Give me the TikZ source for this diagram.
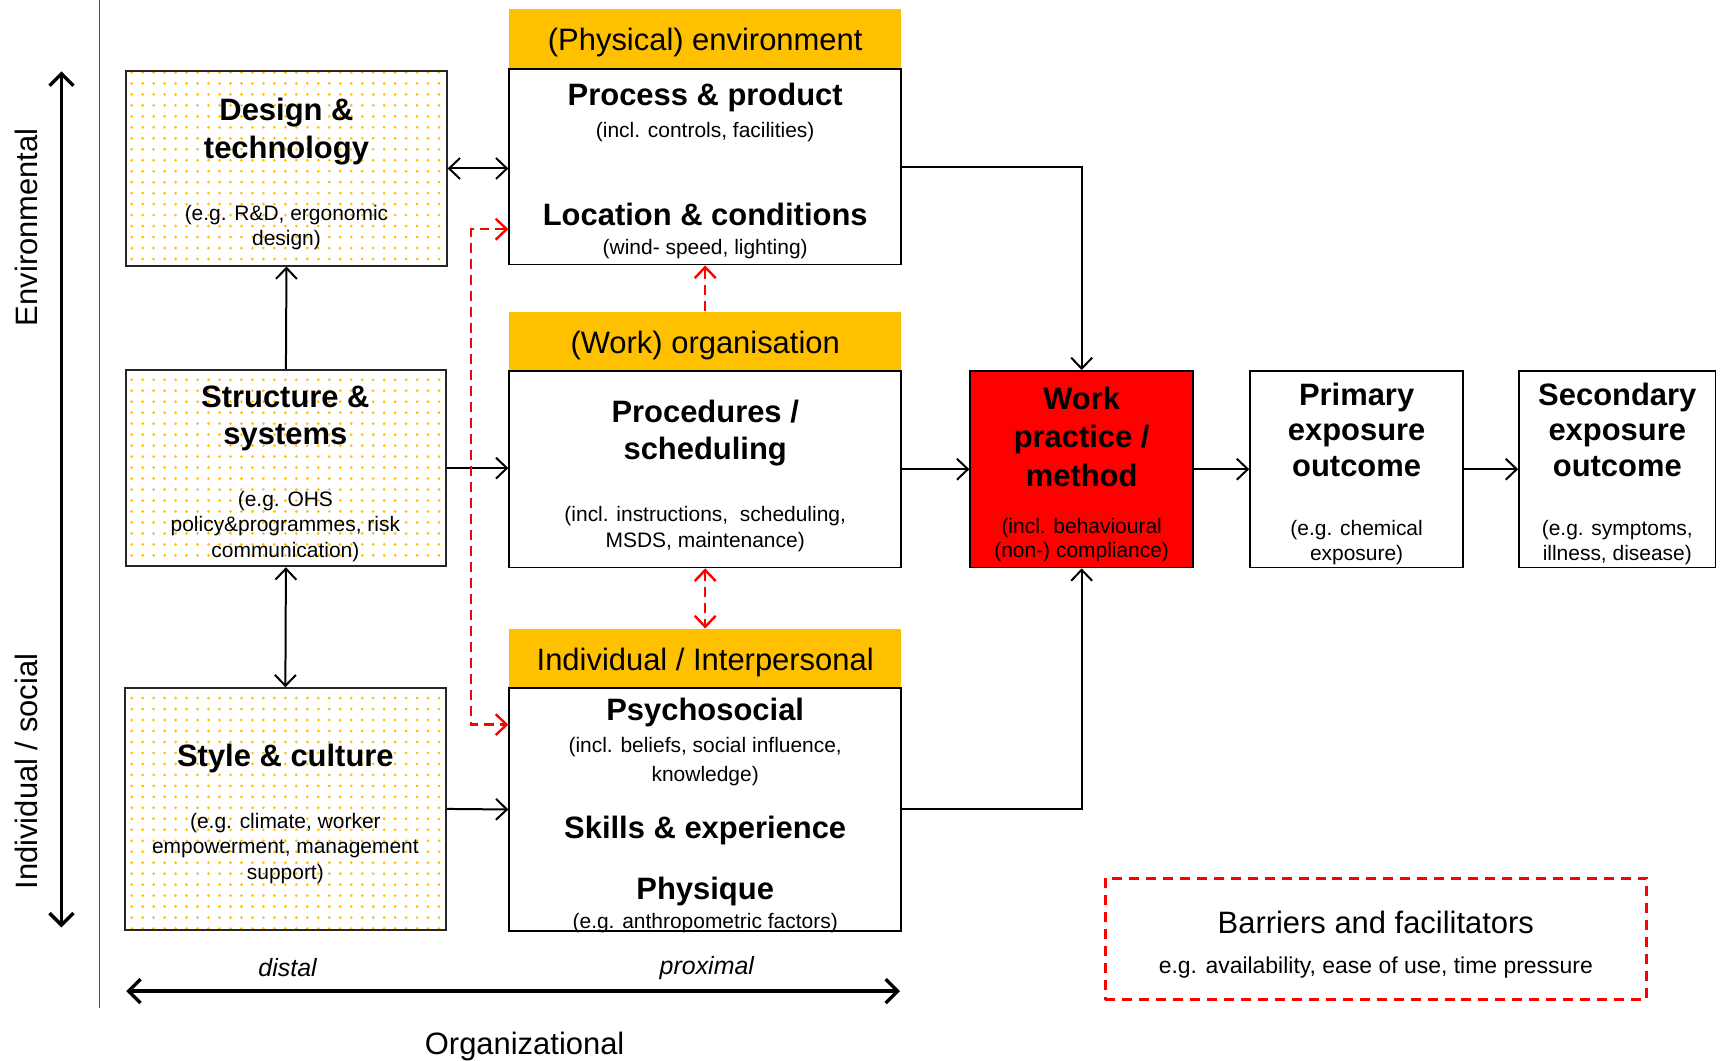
\documentclass[tikz,border=0pt]{standalone}
\usepackage{fontspec}
\setmainfont{Liberation Sans}
\usetikzlibrary{arrows.meta,patterns.meta,calc}
\definecolor{hdrc}{HTML}{FFC000}
\definecolor{wred}{HTML}{FF0000}
\definecolor{dotc}{HTML}{FFC000}
\begin{document}
\begin{tikzpicture}[x=0.55pt,y=-0.55pt,
  sz/.style 2 args={minimum width={#1*0.55pt},minimum height={#2*0.55pt}},
  box/.style={draw=black,line width=0.9pt,inner sep=0pt,fill=white},
  dotbox/.style={draw=black!85,line width=0.9pt,inner sep=0pt,preaction={fill=white},pattern={Dots[distance=5.5pt,radius=0.75pt]},pattern color=dotc},
  hdrbox/.style={fill=hdrc,inner sep=0pt},
  hdrtxt/.style={font=\fontsize{15.5}{18}\selectfont,inner sep=0pt,yshift=-1.9pt},
  ttl/.style={font=\fontsize{15.5}{18.7}\selectfont\bfseries,align=center,inner sep=0pt,yshift=-1.65pt},
  sub/.style={font=\fontsize{10.5}{12.7}\selectfont,align=center,inner sep=0pt,yshift=-1.65pt},
  plain/.style={font=\fontsize{15.5}{18}\selectfont,inner sep=0pt},
  conn/.style={line width=1pt,-{Straight Barb[length=5.5pt,width=10.5pt]}},
  dconn/.style={line width=1pt,{Straight Barb[length=5.5pt,width=10.5pt]}-{Straight Barb[length=5.5pt,width=10.5pt]}},
  rdash/.style={draw=wred,line width=1.2pt,dash pattern=on 5pt off 3pt},
  axis/.style={line width=1.7pt,{Straight Barb[length=6pt,width=12pt]}-{Straight Barb[length=6pt,width=12pt]}}
]
\useasboundingbox (0,0) rectangle (1568,966);

% separator and axes
\coordinate (sepT) at (91,0);
\coordinate (sepB) at (91,918);
\draw[black!70,line width=0.6pt] (sepT) -- (sepB);
\coordinate (envT) at (56,65);
\coordinate (envB) at (56,845);
\draw[axis] (envT) -- (envB);
\node[plain,rotate=90] (envlbl) at (24,207) {Environmental};
\node[plain,rotate=90] (indlbl) at (24,703) {Individual / social};
\coordinate (orgL) at (115,903);
\coordinate (orgR) at (820,903);
\draw[axis] (orgL) -- (orgR);
\node[font=\fontsize{12.5}{15}\selectfont\itshape,inner sep=0pt] (distal) at (262,882) {distal};
\node[font=\fontsize{12.5}{15}\selectfont\itshape,inner sep=0pt] (proximal) at (644,882) {proximal};
\node[plain] (orglbl) at (478,953) {Organizational};

% left dotted boxes
\node[dotbox,sz={292}{177}] (design) at (261,153.5) {};
\node[ttl] (designT) at (261,117) {Design \&\\technology};
\node[sub] (designS) at (261,204.5) {(e.g. R\&D, ergonomic\\design)};

\node[dotbox,sz={291}{179}] (struct) at (260.5,426.5) {};
\node[ttl] (structT) at (260,378.5) {Structure \&\\systems};
\node[sub,font=\fontsize{10.5}{12.9}\selectfont] (structS) at (260,476.7) {(e.g. OHS\\policy\&programmes, risk\\communication)};

\node[dotbox,sz={292}{220}] (style) at (260,737) {};
\node[ttl] (styleT) at (260,688) {Style \& culture};
\node[sub] (styleS) at (260,770) {(e.g. climate, worker\\empowerment, management\\support)};

% physical environment
\node[hdrbox,sz={357}{55}] (physH) at (642.5,35.5) {};
\node[hdrtxt] (physHT) at (642.5,35.5) {(Physical) environment};
\node[box,sz={357}{178}] (physB) at (642.5,152) {};
\node[ttl] (physT1) at (642.5,86) {Process \& product};
\node[sub] (physS1) at (642.5,117) {(incl. controls, facilities)};
\node[ttl] (physT2) at (642.5,192) {Location \& conditions};
\node[sub] (physS2) at (642.5,224) {(wind- speed, lighting)};

% work organisation
\node[hdrbox,sz={357}{54}] (orgH) at (642.5,311) {};
\node[hdrtxt] (orgHT) at (642.5,311) {(Work) organisation};
\node[box,sz={357}{179}] (procB) at (642.5,427.5) {};
\node[ttl] (procT) at (642.5,391.5) {Procedures /\\scheduling};
\node[sub] (procS) at (642.5,479) {(incl. instructions,\ \ scheduling,\\MSDS, maintenance)};

% individual
\node[hdrbox,sz={357}{54}] (indH) at (642.5,600) {};
\node[hdrtxt] (indHT) at (642.5,600) {Individual / Interpersonal};
\node[box,sz={357}{221}] (psyB) at (642.5,737.5) {};
\node[ttl] (psyT1) at (642.5,646) {Psychosocial};
\node[sub,font=\fontsize{10.5}{14.3}\selectfont] (psyS1) at (642.5,691) {(incl. beliefs, social influence,\\knowledge)};
\node[ttl] (psyT2) at (642.5,754) {Skills \& experience};
\node[ttl] (psyT3) at (642.5,809) {Physique};
\node[sub] (psyS3) at (642.5,838) {(e.g. anthropometric factors)};

% work practice and outcomes
\node[box,fill=wred,sz={203}{179}] (work) at (985.5,427.5) {};
\node[ttl,font=\fontsize{15.5}{19.25}\selectfont\bfseries] (workT) at (985.5,395) {Work\\practice /\\method};
\node[sub,font=\fontsize{10.5}{12.1}\selectfont] (workS) at (985.5,489) {(incl. behavioural\\(non-) compliance)};

\node[box,sz={194}{179}] (prim) at (1236,427.5) {};
\node[ttl,font=\fontsize{15.5}{17.9}\selectfont\bfseries] (primT) at (1236,388.5) {Primary\\exposure\\outcome};
\node[sub] (primS) at (1236,491.5) {(e.g. chemical\\exposure)};

\node[box,sz={179}{179}] (sec) at (1473.5,427.5) {};
\node[ttl,font=\fontsize{15.5}{17.9}\selectfont\bfseries] (secT) at (1473.5,388.5) {Secondary\\exposure\\outcome};
\node[sub] (secS) at (1473.5,491.5) {(e.g. symptoms,\\illness, disease)};

% barriers
\node[draw=wred,line width=1.5pt,dash pattern=on 5pt off 3.5pt,sz={493}{111},inner sep=0pt] (barr) at (1253.5,855.5) {};
\node[plain] (barrT) at (1253.5,840) {Barriers and facilitators};
\node[font=\fontsize{11.5}{14}\selectfont,inner sep=0pt] (barrS) at (1253.5,881.5) {e.g. availability, ease of use, time pressure};

% connectors
\draw[dconn] (design.east) -- (design.east -| physB.west);
\draw[conn] (struct.north) -- (design.south);
\draw[dconn] (struct.south) -- (style.north);
\draw[conn] (struct.east) -- (struct.east -| procB.west);
\draw[conn] (style.east) -- (psyB.west);
\draw[conn] (physB.east) -| (work.north);
\draw[conn] (procB.east) -- (work.west);
\draw[conn] (psyB.east) -| (work.south);
\draw[conn] (work.east) -- (prim.west);
\draw[conn] (prim.east) -- (sec.west);

% red dashed connectors
\draw[rdash,{Straight Barb[length=5.5pt,width=10.5pt]}-{Straight Barb[length=5.5pt,width=10.5pt]}]
  ([yshift=33*0.55pt]physB.south west) -- ++(-34,0) |- ([yshift=-34*0.55pt]psyB.north west);
\draw[rdash,-{Straight Barb[length=5.5pt,width=10.5pt]}] (orgH.north) -- (physB.south);
\draw[rdash,{Straight Barb[length=5.5pt,width=10.5pt]}-{Straight Barb[length=5.5pt,width=10.5pt]}] (procB.south) -- (indH.north);
\end{tikzpicture}
\end{document}
